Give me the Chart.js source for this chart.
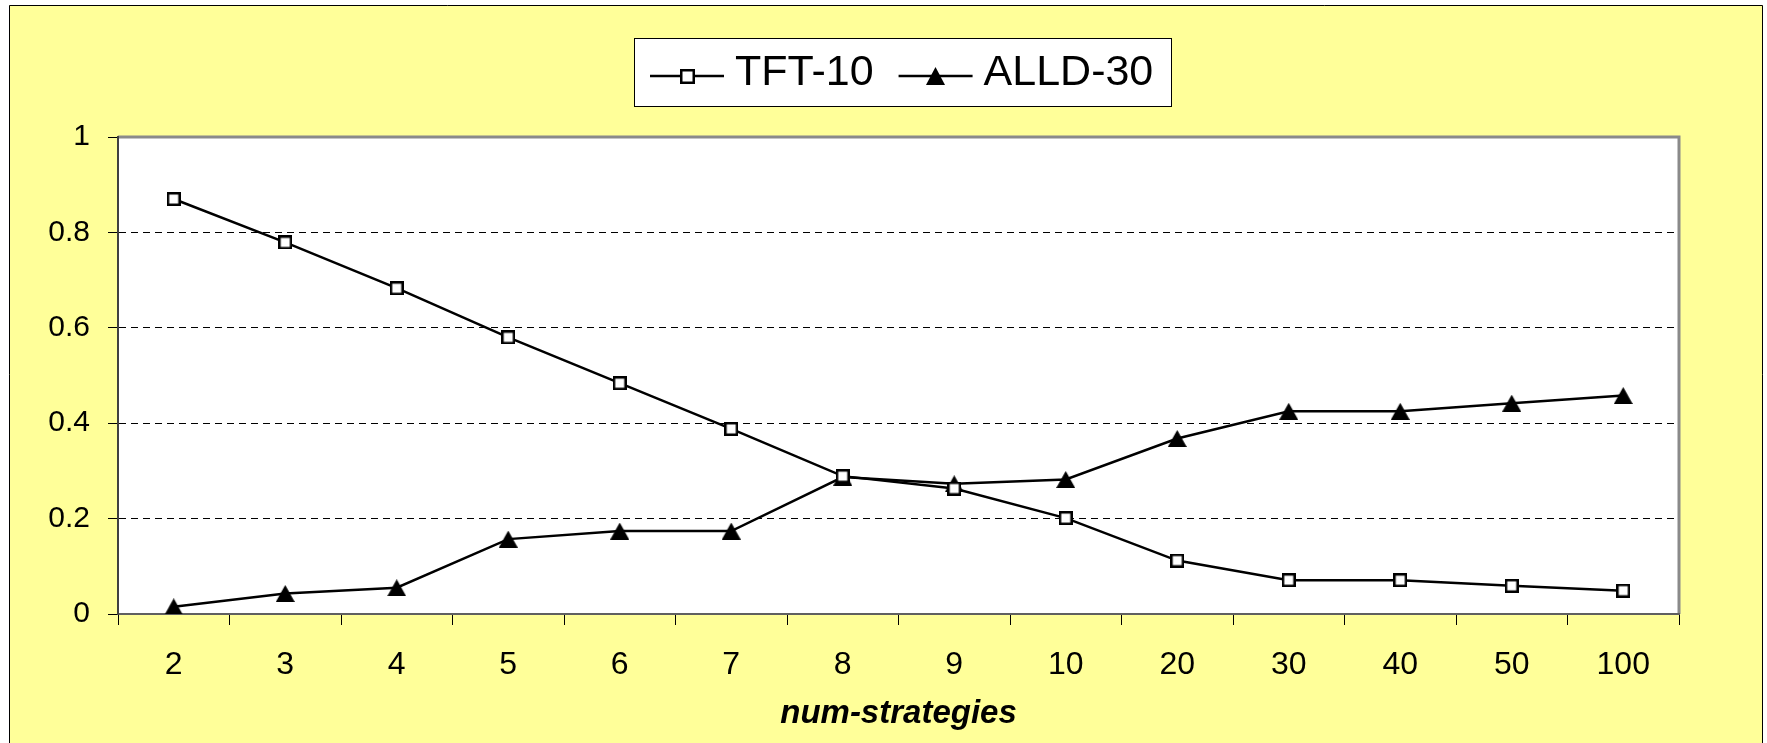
<!DOCTYPE html>
<html><head><meta charset="utf-8">
<script src="https://cdn.jsdelivr.net/npm/chart.js@4/dist/chart.umd.min.js"></script>
<style>html,body{margin:0;padding:0;background:#fff;overflow:hidden}#wrap{width:1767px;height:743px;position:relative}canvas{display:block}</style>
</head><body><div id="wrap"><canvas id="c" width="1767" height="743"></canvas></div>
<script>
const categories = ['2','3','4','5','6','7','8','9','10','20','30','40','50','100'];
const tft10 = [0.870,0.779,0.683,0.580,0.484,0.388,0.289,0.263,0.201,0.112,0.071,0.071,0.059,0.049];
const alld30 = [0.015,0.043,0.055,0.157,0.174,0.174,0.287,0.273,0.282,0.368,0.425,0.425,0.442,0.458];
const yTicks = [0,0.2,0.4,0.6,0.8,1];
const yTickLabels = ['0','0.2','0.4','0.6','0.8','1'];
const seriesLabels = ['TFT-10','ALLD-30'];
const xTitle = 'num-strategies';

Chart.defaults.font.family = '"Liberation Sans", Arial, sans-serif';
Chart.defaults.color = '#000';

function squareImg(side){
  const c=document.createElement('canvas'); c.width=side; c.height=side;
  const g=c.getContext('2d'); g.fillStyle='#fff'; g.fillRect(0,0,side,side);
  g.strokeStyle='#000'; g.lineWidth=2.5; g.strokeRect(1.25,1.25,side-2.5,side-2.5); return c;
}
function triImg(w,h){
  const c=document.createElement('canvas'); c.width=w; c.height=h;
  const g=c.getContext('2d'); g.beginPath(); g.moveTo(w/2,0); g.lineTo(w,h); g.lineTo(0,h); g.closePath();
  g.fillStyle='#000'; g.fill(); return c;
}
const sq = squareImg(14), tri = triImg(19,17);
const legendImgs = [squareImg(15), triImg(19,18)];

const bgPlugin = {
  id:'bg',
  beforeDraw(chart){
    const ctx=chart.ctx, a=chart.chartArea;
    ctx.save();
    ctx.fillStyle='#fff'; ctx.fillRect(0,0,chart.width,chart.height);
    ctx.fillStyle='#FFFF99'; ctx.fillRect(9,5,1754,738);
    ctx.strokeStyle='#000'; ctx.lineWidth=1;
    ctx.beginPath(); ctx.moveTo(9.5,743); ctx.lineTo(9.5,5.5); ctx.lineTo(1762.5,5.5); ctx.lineTo(1762.5,743); ctx.stroke();
    ctx.fillStyle='#fff'; ctx.fillRect(a.left,a.top,a.right-a.left,a.bottom-a.top);
    ctx.strokeStyle='#8a8a8a'; ctx.lineWidth=3;
    ctx.beginPath(); ctx.moveTo(a.left,a.top); ctx.lineTo(a.right,a.top); ctx.lineTo(a.right,a.bottom); ctx.stroke();
    ctx.restore();
  }
};
const legendPlugin = {
  id:'boxLegend',
  afterDraw(chart){
    const ctx=chart.ctx; ctx.save();
    const x0=634,y0=38,x1=1172,y1=107;
    ctx.fillStyle='#fff'; ctx.fillRect(x0,y0,x1-x0,y1-y0);
    ctx.strokeStyle='#000'; ctx.lineWidth=1; ctx.strokeRect(x0+0.5,y0+0.5,x1-x0-1,y1-y0-1);
    ctx.font='43px "Liberation Sans", Arial, sans-serif'; ctx.textBaseline='middle';
    let x=650; const ly=76;
    chart.data.datasets.forEach((ds,i)=>{
      ctx.strokeStyle='#000'; ctx.lineWidth=2.5;
      ctx.beginPath(); ctx.moveTo(x,ly); ctx.lineTo(x+74,ly); ctx.stroke();
      const img=legendImgs[i];
      ctx.drawImage(img, Math.round(x+37-img.width/2), Math.round(ly-img.height/2));
      x+=74+11;
      ctx.fillStyle='#000'; ctx.fillText(ds.label, x, 73);
      x+=ctx.measureText(ds.label).width+25;
    });
    ctx.restore();
  }
};

new Chart(document.getElementById('c'), {
  type:'line',
  data:{
    labels:categories,
    datasets:[
      {label:seriesLabels[0], data:tft10, borderColor:'#000', borderWidth:2.5, pointStyle:sq, tension:0},
      {label:seriesLabels[1], data:alld30, borderColor:'#000', borderWidth:2.5, pointStyle:tri, tension:0}
    ]
  },
  options:{
    responsive:false, animation:false, devicePixelRatio:1,
    layout:{padding:{left:0,top:137,right:88,bottom:0}},
    plugins:{legend:{display:false}, tooltip:{enabled:false}},
    scales:{
      x:{
        type:'category', offset:true,
        afterFit:s=>{s.height=129;},
        grid:{offset:true, drawOnChartArea:false, drawTicks:true, tickLength:11, tickColor:'#000', tickWidth:1},
        border:{display:true, color:'#606060', width:2},
        ticks:{font:{size:32}, color:'#000', padding:21, maxRotation:0, autoSkip:false},
        title:{display:true, text:xTitle, color:'#000', font:{size:33, weight:'bold', style:'italic'}, padding:{top:0,bottom:9}}
      },
      y:{
        type:'linear', min:0, max:1,
        afterBuildTicks:s=>{s.ticks=yTicks.map(v=>({value:v}));},
        afterFit:s=>{s.width=118;},
        ticks:{callback:(v,i)=>yTickLabels[i], font:{size:30}, color:'#000', padding:18},
        grid:{color:c=>(c.tick && (c.tick.value===0||c.tick.value===1))?'rgba(0,0,0,0)':'#000', lineWidth:1, tickLength:10, tickColor:'#000', tickWidth:1, tickBorderDash:[]},
        border:{display:true, color:'#404040', width:2, dash:[7,5]}
      }
    }
  },
  plugins:[bgPlugin, legendPlugin]
});
</script>
</body></html>
